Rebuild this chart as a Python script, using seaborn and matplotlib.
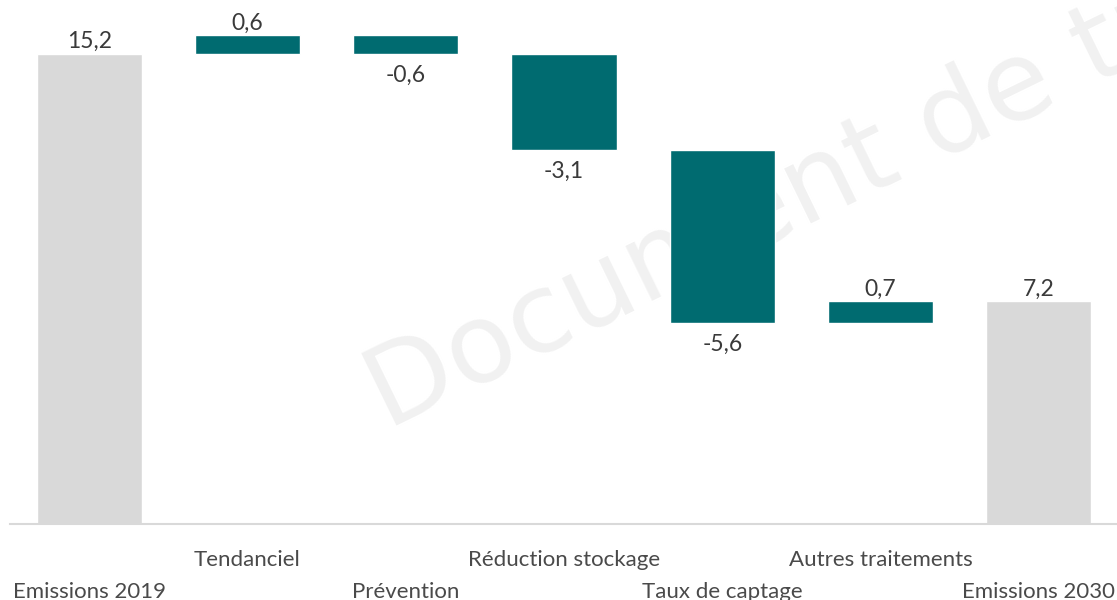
import matplotlib
matplotlib.use("Agg")
import matplotlib.pyplot as plt
import seaborn as sns
import pandas as pd

# ---- data ----
categories = ["Emissions 2019", "Tendanciel", "Prévention", "Réduction stockage",
              "Taux de captage", "Autres traitements", "Emissions 2030"]
values = [15.2, 0.6, -0.6, -3.1, -5.6, 0.7, 7.2]
kinds = ["total", "delta", "delta", "delta", "delta", "delta", "total"]
value_labels = ["15,2", "0,6", "-0,6", "-3,1", "-5,6", "0,7", "7,2"]
watermark = "Document de travail"

# waterfall geometry
bottoms, heights = [], []
running = 0.0
for v, k in zip(values, kinds):
    if k == "total":
        bottoms.append(0.0)
        heights.append(v)
        running = v
    else:
        end = running + v
        bottoms.append(min(running, end))
        heights.append(abs(v))
        running = end

TEAL = "#006b70"
GREY = "#d9d9d9"
colors = [GREY if k == "total" else TEAL for k in kinds]

sns.set_theme(style="white")
plt.rcParams["font.family"] = ["Lato", "DejaVu Sans"]

fig = plt.figure(figsize=(11.17, 6.0), dpi=100)
ax = fig.add_axes([10 / 1117, 76 / 600, 1108 / 1117, 524 / 600])
ax.patch.set_alpha(0)

df = pd.DataFrame({"cat": categories, "h": heights})
sns.barplot(data=df, x="cat", y="h", hue="cat", palette=colors, width=0.665,
            saturation=1, legend=False, ax=ax, zorder=2)

for patch, b in zip(ax.patches, bottoms):
    patch.set_y(b)

ax.set_xlim(-0.5, 6.5)
ax.set_ylim(0, 524 / 30.92)

# value labels
for i, (b, h, v, lab) in enumerate(zip(bottoms, heights, values, value_labels)):
    if v >= 0:
        ax.annotate(lab, (i, b + h), xytext=(0, 6 * 0.72), textcoords="offset points",
                    ha="center", va="baseline", fontsize=16.5, color="#3a3a3a")
    else:
        ax.annotate(lab, (i, b), xytext=(0, -28 * 0.72), textcoords="offset points",
                    ha="center", va="baseline", fontsize=16.5, color="#3a3a3a")

# staggered category labels
ax.set_xticks(range(len(categories)))
ax.set_xticklabels([])
ax.tick_params(axis="x", length=0)
for i, cat in enumerate(categories):
    off = 74 if i % 2 == 0 else 42
    ax.annotate(cat, (i, 0), xycoords=ax.get_xaxis_transform(),
                xytext=(0, -off * 0.72), textcoords="offset points",
                ha="center", va="baseline", fontsize=16, color="#4a4a4a",
                annotation_clip=False)

ax.set_xlabel("")
ax.set_ylabel("")
ax.set_yticks([])
for s in ["left", "right", "top"]:
    ax.spines[s].set_visible(False)
ax.spines["bottom"].set_color(GREY)
ax.spines["bottom"].set_linewidth(1.5)

# watermark behind bars
ax.text(387 / 1117, (600 - 430) / 600, watermark, transform=fig.transFigure,
        rotation=26, rotation_mode="anchor", ha="left", va="baseline",
        fontsize=80, color="#f1f1f1", zorder=0, clip_on=False,
        family="DejaVu Sans")

fig.savefig("out.png", dpi=100)
